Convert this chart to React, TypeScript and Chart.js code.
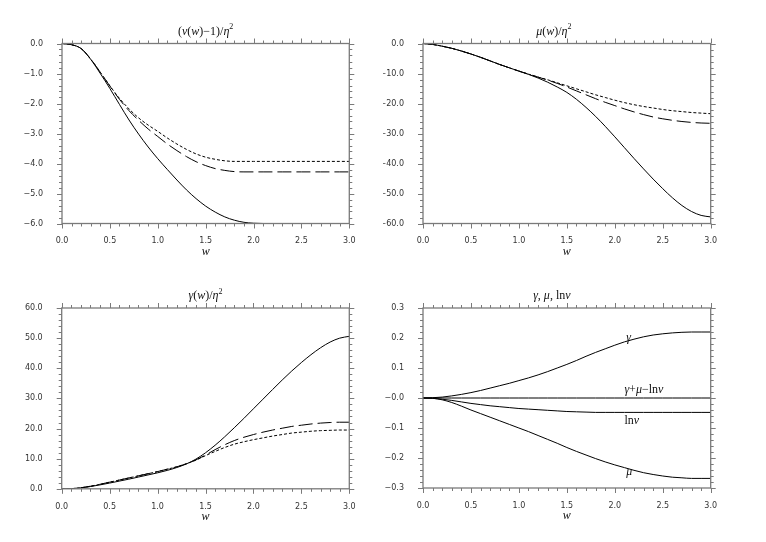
import React, { useEffect, useRef } from 'react';
import { Chart, registerables } from 'chart.js';

Chart.register(...registerables);

// ---------- data ----------
const W = [0.0, 0.1, 0.2, 0.3, 0.4, 0.5, 0.6, 0.7, 0.8, 0.9, 1.0, 1.1, 1.2, 1.3, 1.4, 1.5, 1.6, 1.7, 1.8, 1.9, 2.0, 2.1, 2.2, 2.3, 2.4, 2.5, 2.6, 2.7, 2.8, 2.9, 3.0];

// (nu(w)-1)/eta^2
const NU_SOLID = [0, -0.04, -0.17, -0.53, -1.0, -1.5, -2.03, -2.55, -3.02, -3.45, -3.84, -4.2, -4.55, -4.88, -5.17, -5.42, -5.62, -5.78, -5.89, -5.96, -5.99, -6.0, -6.0, -6.0, -6.0, -6.0, -6.0, -6.0, -6.0, -6.0, -6.0];
const NU_DASH = [0, -0.04, -0.17, -0.52, -0.96, -1.42, -1.86, -2.24, -2.56, -2.85, -3.1, -3.35, -3.57, -3.77, -3.94, -4.07, -4.17, -4.23, -4.27, -4.28, -4.28, -4.28, -4.28, -4.28, -4.28, -4.28, -4.28, -4.28, -4.28, -4.28, -4.28];
const NU_DOT = [0, -0.04, -0.17, -0.52, -0.96, -1.41, -1.83, -2.18, -2.48, -2.72, -2.93, -3.15, -3.35, -3.53, -3.68, -3.79, -3.86, -3.91, -3.93, -3.93, -3.93, -3.93, -3.93, -3.93, -3.93, -3.93, -3.93, -3.93, -3.93, -3.93, -3.93];

// mu(w)/eta^2
const MU_SOLID = [0, -0.3, -0.9, -1.6, -2.5, -3.5, -4.6, -5.8, -7.0, -8.1, -9.2, -10.3, -11.5, -12.9, -14.5, -16.3, -18.6, -21.3, -24.3, -27.6, -31.1, -34.7, -38.3, -41.8, -45.2, -48.4, -51.4, -54.0, -56.0, -57.3, -57.8];
const MU_DASH = [0, -0.3, -0.9, -1.6, -2.5, -3.5, -4.6, -5.8, -7.0, -8.1, -9.2, -10.2, -11.2, -12.2, -13.3, -14.5, -15.8, -17.1, -18.4, -19.6, -20.7, -21.8, -22.8, -23.7, -24.5, -25.1, -25.6, -26.0, -26.3, -26.5, -26.6];
const MU_DOT = [0, -0.3, -0.9, -1.6, -2.5, -3.5, -4.6, -5.8, -7.0, -8.1, -9.2, -10.2, -11.2, -12.1, -13.1, -14.1, -15.1, -16.1, -17.1, -18.0, -18.9, -19.7, -20.4, -21.0, -21.5, -22.0, -22.4, -22.7, -23.0, -23.2, -23.4];

// gamma(w)/eta^2
const GAM_SOLID = [0, 0.05, 0.3, 0.75, 1.3, 1.9, 2.55, 3.2, 3.9, 4.6, 5.3, 6.1, 7.05, 8.25, 9.85, 11.95, 14.45, 17.25, 20.25, 23.35, 26.55, 29.75, 32.95, 36.1, 39.1, 41.9, 44.5, 46.8, 48.7, 50.0, 50.6];
const GAM_DASH = [0, 0.05, 0.35, 0.85, 1.5, 2.2, 2.9, 3.6, 4.3, 5.0, 5.7, 6.5, 7.3, 8.3, 9.6, 11.2, 13.0, 14.6, 16.0, 17.1, 18.0, 18.8, 19.5, 20.1, 20.7, 21.1, 21.5, 21.8, 22.0, 22.1, 22.1];
const GAM_DOT = [0, 0.05, 0.35, 0.85, 1.5, 2.2, 2.9, 3.6, 4.3, 5.0, 5.7, 6.5, 7.3, 8.3, 9.5, 11.0, 12.4, 13.7, 14.8, 15.6, 16.3, 16.9, 17.5, 18.0, 18.5, 18.8, 19.1, 19.3, 19.4, 19.5, 19.5];

// gamma, mu, ln nu
const P4_GAMMA = [0, 0.001, 0.003, 0.007, 0.012, 0.018, 0.025, 0.033, 0.041, 0.049, 0.058, 0.067, 0.077, 0.088, 0.1, 0.112, 0.125, 0.139, 0.152, 0.164, 0.176, 0.187, 0.196, 0.204, 0.21, 0.214, 0.217, 0.219, 0.22, 0.22, 0.22];
const P4_MU = [0, -0.001, -0.006, -0.015, -0.027, -0.04, -0.052, -0.064, -0.076, -0.088, -0.1, -0.112, -0.125, -0.138, -0.151, -0.165, -0.178, -0.19, -0.202, -0.213, -0.223, -0.232, -0.241, -0.249, -0.255, -0.26, -0.264, -0.266, -0.268, -0.268, -0.268];
const P4_LNNU = [0, -0.001, -0.004, -0.008, -0.013, -0.018, -0.022, -0.026, -0.029, -0.032, -0.035, -0.037, -0.039, -0.041, -0.043, -0.045, -0.046, -0.047, -0.048, -0.048, -0.048, -0.048, -0.048, -0.048, -0.048, -0.048, -0.048, -0.048, -0.048, -0.048, -0.048];
const P4_SUM = [0, 0, 0, 0, 0, 0, 0, 0, 0, 0, 0, 0, 0, 0, 0, 0, 0, 0, 0, 0, 0, 0, 0, 0, 0, 0, 0, 0, 0, 0, 0];

// tick values / labels
const X_TICKS = [0, 0.5, 1.0, 1.5, 2.0, 2.5, 3.0];
const X_LABELS = ['0.0', '0.5', '1.0', '1.5', '2.0', '2.5', '3.0'];
const NU_TICKS = [-6, -5, -4, -3, -2, -1, 0];
const NU_LABELS = ['−6.0', '−5.0', '−4.0', '−3.0', '−2.0', '−1.0', '0.0'];
const MU_TICKS = [-60, -50, -40, -30, -20, -10, 0];
const MU_LABELS = ['−60.0', '−50.0', '−40.0', '−30.0', '−20.0', '−10.0', '0.0'];
const GAM_TICKS = [0, 10, 20, 30, 40, 50, 60];
const GAM_LABELS = ['0.0', '10.0', '20.0', '30.0', '40.0', '50.0', '60.0'];
const P4_TICKS = [-0.3, -0.2, -0.1, 0, 0.1, 0.2, 0.3];
const P4_LABELS = ['−0.3', '−0.2', '−0.1', '−0.0', '0.1', '0.2', '0.3'];

// ---------- styling ----------
type Seg = { t: string; it?: boolean; sup?: boolean };
const SERIF = '"Liberation Serif", "DejaVu Serif", serif';
const SANS = '"DejaVu Sans", sans-serif';
const DASH_LONG = [14, 5];
const DASH_SHORT = [3, 2];
const PW = 383;
const PH = 271;

const TITLE1: Seg[] = [{ t: '(' }, { t: 'ν', it: true }, { t: '(' }, { t: 'w', it: true }, { t: ')−1)/' }, { t: 'η', it: true }, { t: '2', sup: true }];
const TITLE2: Seg[] = [{ t: 'μ', it: true }, { t: '(' }, { t: 'w', it: true }, { t: ')/' }, { t: 'η', it: true }, { t: '2', sup: true }];
const TITLE3: Seg[] = [{ t: 'γ', it: true }, { t: '(' }, { t: 'w', it: true }, { t: ')/' }, { t: 'η', it: true }, { t: '2', sup: true }];
const TITLE4: Seg[] = [{ t: 'γ', it: true }, { t: ', ' }, { t: 'μ', it: true }, { t: ', ln' }, { t: 'ν', it: true }];

const P4_NOTES = [
  { segs: [{ t: 'γ', it: true }] as Seg[], w: 2.12, v: 0.19 },
  { segs: [{ t: 'γ', it: true }, { t: '+' }, { t: 'μ', it: true }, { t: '−ln' }, { t: 'ν', it: true }] as Seg[], w: 2.1, v: 0.017 },
  { segs: [{ t: 'ln' }, { t: 'ν', it: true }] as Seg[], w: 2.1, v: -0.087 },
  { segs: [{ t: 'μ', it: true }] as Seg[], w: 2.12, v: -0.255 },
];

type PanelCfg = {
  x: number; y: number;
  area: { left: number; right: number; top: number; bottom: number };
  title: Seg[]; titleDx: number;
  yMin: number; yMax: number; yMinor: number; yMajor: number;
  yTicks: number[]; yLabels: string[];
  series: { values: number[]; dash: number[] }[];
  notes?: { segs: Seg[]; w: number; v: number }[];
};

const PANELS: PanelCfg[] = [
  {
    x: 0, y: 0, area: { left: 62, right: 349.3, top: 43.5, bottom: 223.5 },
    title: TITLE1, titleDx: 0, yMin: -6, yMax: 0, yMinor: 0.2, yMajor: 1,
    yTicks: NU_TICKS, yLabels: NU_LABELS,
    series: [{ values: NU_SOLID, dash: [] }, { values: NU_DASH, dash: DASH_LONG }, { values: NU_DOT, dash: DASH_SHORT }],
  },
  {
    x: 383, y: 0, area: { left: 40, right: 327.7, top: 43.5, bottom: 223.5 },
    title: TITLE2, titleDx: -13, yMin: -60, yMax: 0, yMinor: 2, yMajor: 10,
    yTicks: MU_TICKS, yLabels: MU_LABELS,
    series: [{ values: MU_SOLID, dash: [] }, { values: MU_DASH, dash: DASH_LONG }, { values: MU_DOT, dash: DASH_SHORT }],
  },
  {
    x: 0, y: 271, area: { left: 61.7, right: 349.3, top: 37, bottom: 217.8 },
    title: TITLE3, titleDx: 0, yMin: 0, yMax: 60, yMinor: 2, yMajor: 10,
    yTicks: GAM_TICKS, yLabels: GAM_LABELS,
    series: [{ values: GAM_SOLID, dash: [] }, { values: GAM_DASH, dash: DASH_LONG }, { values: GAM_DOT, dash: DASH_SHORT }],
  },
  {
    x: 383, y: 271, area: { left: 40, right: 327.7, top: 37, bottom: 217 },
    title: TITLE4, titleDx: -15, yMin: -0.3, yMax: 0.3, yMinor: 0.02, yMajor: 0.1,
    yTicks: P4_TICKS, yLabels: P4_LABELS,
    series: [{ values: P4_GAMMA, dash: [] }, { values: P4_SUM, dash: [] }, { values: P4_LNNU, dash: [] }, { values: P4_MU, dash: [] }],
    notes: P4_NOTES,
  },
];

function segFont(s: Seg, size: number) {
  return `${s.it ? 'italic ' : ''}${s.sup ? Math.round(size * 0.68) : size}px ${SERIF}`;
}

function drawRich(ctx: CanvasRenderingContext2D, segs: Seg[], x: number, y: number, size: number, align: 'center' | 'left') {
  let total = 0;
  for (const s of segs) { ctx.font = segFont(s, size); total += ctx.measureText(s.t).width; }
  let cx = align === 'center' ? x - total / 2 : x;
  ctx.textAlign = 'left';
  ctx.textBaseline = 'alphabetic';
  for (const s of segs) {
    ctx.font = segFont(s, size);
    ctx.fillText(s.t, cx, s.sup ? y - size * 0.42 : y);
    cx += ctx.measureText(s.t).width;
  }
}

function Panel({ cfg }: { cfg: PanelCfg }) {
  const ref = useRef<HTMLCanvasElement | null>(null);
  useEffect(() => {
    if (!ref.current) return;
    const a = cfg.area;
    const decor = {
      id: 'decor',
      afterDatasetsDraw(chart: any) {
        const ctx: CanvasRenderingContext2D = chart.ctx;
        const { left, right, top, bottom } = chart.chartArea;
        const xs = chart.scales.x;
        const ys = chart.scales.y;
        ctx.save();
        ctx.strokeStyle = '#7a7a7a';
        ctx.lineWidth = 1.3;
        ctx.strokeRect(left, top, right - left, bottom - top);
        ctx.lineWidth = 1;
        ctx.beginPath();
        for (let i = 0; i <= 30; i++) {
          const px = Math.round(xs.getPixelForValue(i / 10)) + 0.5;
          const len = i % 5 === 0 ? 5 : 3;
          ctx.moveTo(px, bottom); ctx.lineTo(px, bottom + len);
          ctx.moveTo(px, top); ctx.lineTo(px, top - len);
        }
        const n = Math.round((cfg.yMax - cfg.yMin) / cfg.yMinor);
        const per = Math.round(cfg.yMajor / cfg.yMinor);
        for (let i = 0; i <= n; i++) {
          const v = cfg.yMin + i * cfg.yMinor;
          const py = Math.round(ys.getPixelForValue(v)) + 0.5;
          const len = i % per === 0 ? 5 : 3;
          ctx.moveTo(left, py); ctx.lineTo(left - len, py);
          ctx.moveTo(right, py); ctx.lineTo(right + len, py);
        }
        ctx.stroke();
        ctx.restore();
      },
      afterDraw(chart: any) {
        const ctx: CanvasRenderingContext2D = chart.ctx;
        const { left, right, top, bottom } = chart.chartArea;
        const xs = chart.scales.x;
        const ys = chart.scales.y;
        ctx.save();
        ctx.fillStyle = '#111';
        drawRich(ctx, cfg.title, (left + right) / 2 + cfg.titleDx, top - 9, 12, 'center');
        drawRich(ctx, [{ t: 'w', it: true }], (left + right) / 2, bottom + 31, 12, 'center');
        if (cfg.notes) {
          for (const nt of cfg.notes) {
            drawRich(ctx, nt.segs, xs.getPixelForValue(nt.w), ys.getPixelForValue(nt.v), 12, 'left');
          }
        }
        ctx.restore();
      },
    };
    const tickFont = { family: SANS, size: 8 };
    const chart = new Chart(ref.current, {
      type: 'line',
      data: {
        datasets: cfg.series.map((s) => ({
          data: W.map((w, i) => ({ x: w, y: s.values[i] })),
          borderColor: '#000',
          borderWidth: 1,
          borderDash: s.dash,
          pointRadius: 0,
          fill: false,
          cubicInterpolationMode: 'monotone' as const,
        })),
      },
      options: {
        animation: false,
        responsive: false,
        events: [],
        layout: { padding: { left: 0, top: a.top, right: PW - a.right, bottom: 0 } },
        plugins: { legend: { display: false }, tooltip: { enabled: false }, title: { display: false } },
        scales: {
          x: {
            type: 'linear', min: 0, max: 3,
            grid: { display: false }, border: { display: false },
            ticks: { font: tickFont, color: '#333', padding: 5, autoSkip: false, maxRotation: 0, callback: (_v: any, i: number) => X_LABELS[i] },
            afterBuildTicks: (s: any) => { s.ticks = X_TICKS.map((v) => ({ value: v })); },
            afterFit: (s: any) => { s.height = PH - a.bottom; },
          },
          y: {
            type: 'linear', min: cfg.yMin, max: cfg.yMax,
            grid: { display: false }, border: { display: false },
            ticks: { font: tickFont, color: '#333', padding: 11, autoSkip: false, callback: (_v: any, i: number) => cfg.yLabels[i] },
            afterBuildTicks: (s: any) => { s.ticks = cfg.yTicks.map((v) => ({ value: v })); },
            afterFit: (s: any) => { s.width = a.left; },
          },
        },
      } as any,
      plugins: [decor],
    });
    return () => chart.destroy();
  }, [cfg]);
  return (
    <canvas
      ref={ref}
      width={PW}
      height={PH}
      style={{ position: 'absolute', left: cfg.x, top: cfg.y, width: PW, height: PH }}
    />
  );
}

export default function App() {
  return (
    <div style={{ position: 'absolute', left: 0, top: 0, width: 766, height: 542, background: '#fff', overflow: 'hidden' }}>
      {PANELS.map((p, i) => <Panel key={i} cfg={p} />)}
    </div>
  );
}
